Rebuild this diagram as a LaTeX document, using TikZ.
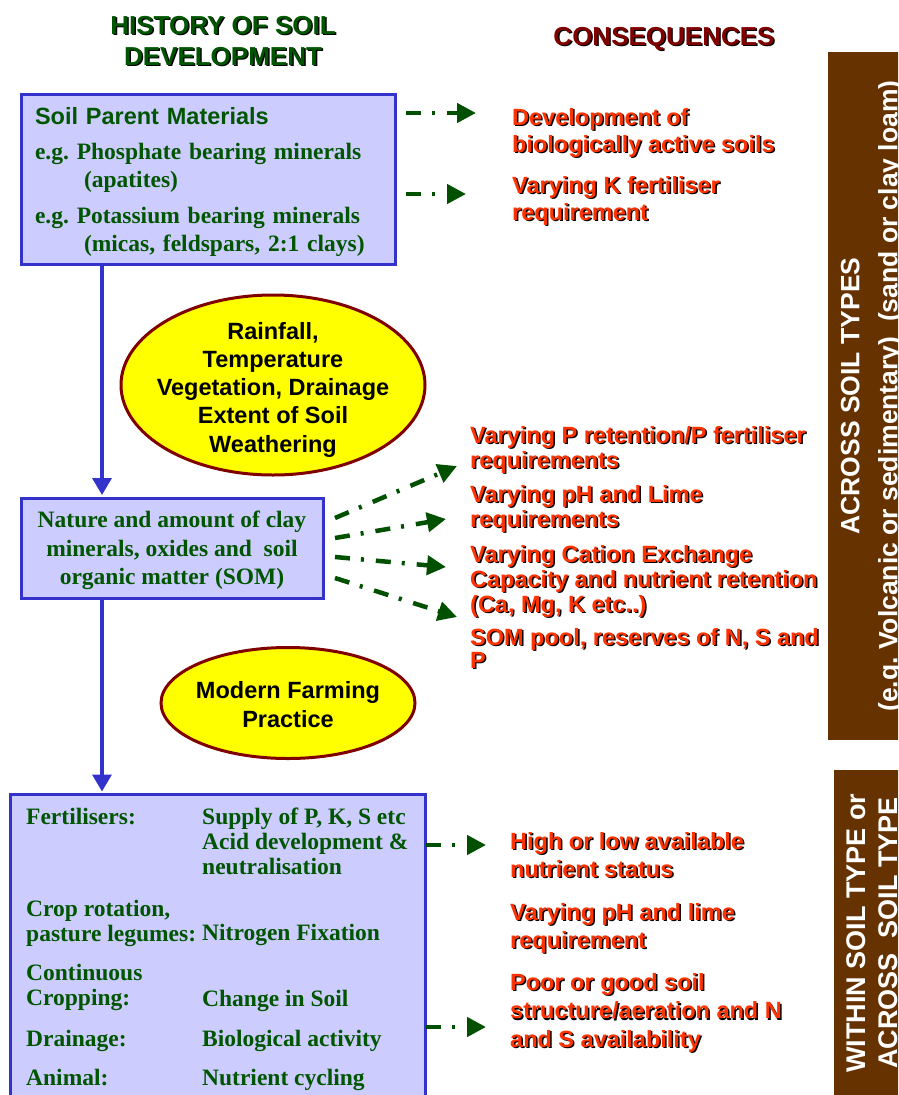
\documentclass[tikz,border=0pt]{standalone}
\usepackage{fontspec}
\setmainfont{Liberation Serif}
\setsansfont{Liberation Sans}
\usepackage{tikz}
\usetikzlibrary{arrows.meta,shapes.geometric}

\definecolor{boxfill}{HTML}{CCCCFF}
\definecolor{boxline}{HTML}{3333CC}
\definecolor{leafgreen}{RGB}{0,85,0}
\definecolor{linkgreen}{RGB}{0,80,0}
\definecolor{consred}{HTML}{FF3300}
\definecolor{maroon}{HTML}{800000}
\definecolor{bubblefill}{HTML}{FFFF00}
\definecolor{soilbrown}{HTML}{663300}

\newcommand{\shd}[1]{\rlap{\kern1.5pt\raisebox{-1.5pt}{\color{black}#1}}#1}
\frenchspacing

\begin{document}
\begin{tikzpicture}[x=1pt,y=-1pt,
    box/.style={draw=boxline,fill=boxfill,line width=3pt,outer sep=0pt,text=leafgreen,
      font=\bfseries\fontsize{23.5}{28}\selectfont},
    bubble/.style={ellipse,draw=maroon,fill=bubblefill,line width=3pt},
    bubbletext/.style={align=center,inner sep=0pt,font=\sffamily\bfseries\fontsize{23.5}{28.25}\selectfont},
    cons/.style={anchor=north west,inner sep=0pt,align=left,text=consred,
      font=\sffamily\bfseries\fontsize{23.5}{27}\selectfont},
    practice/.style={anchor=base west,inner sep=0pt,align=left,text=leafgreen,
      font=\bfseries\fontsize{23.5}{25}\selectfont},
    flow/.style={boxline,line width=3.5pt,shorten >=3pt,-{Triangle[length=17pt,width=19pt]}},
    link/.style={linkgreen,line width=4.5pt,dash pattern=on 15pt off 11pt on 3pt off 12pt,
      -{Triangle[length=19pt,width=19pt]}},
    bartext/.style={rotate=90,align=center,inner sep=0pt,text=white,
      font=\sffamily\bfseries\fontsize{26.5}{38}\selectfont}]
    \useasboundingbox (0,0) rectangle (898,1095);
    \clip (0,0) rectangle (898,1095);

    % headings
    \node[anchor=north,align=center,inner sep=0pt,text=leafgreen,
      font=\sffamily\bfseries\fontsize{26}{31}\selectfont] (history) at (223,16)
      {\shd{HISTORY OF SOIL}\\\shd{DEVELOPMENT}};
    \node[anchor=base,inner sep=0pt,text=maroon,
      font=\sffamily\bfseries\fontsize{26}{31}\selectfont] (conseq) at (664,45)
      {\shd{CONSEQUENCES}};

    % left column
    \node[box,anchor=north west,text width=347pt,inner xsep=13.5pt,minimum height=170pt,align=left]
      (parent) at (21.5,94.5)
      {\rule{0pt}{23pt}{\sffamily Soil Parent Materials}\\[7pt]
       e.g. Phosphate bearing minerals\\
       \hspace*{49pt}(apatites)\\[8pt]
       e.g. Potassium bearing minerals\\
       \hspace*{49pt}(micas, feldspars, 2:1 clays)};

    \node[box,minimum width=302pt,minimum height=100pt,align=center,
      font=\bfseries\fontsize{23.5}{28.5}\selectfont] (clay) at (172,548)
      {\rule{0pt}{22pt}Nature and amount of clay\\minerals, oxides and~~soil\\organic matter (SOM)};

    \node[box,anchor=north west,minimum width=415pt,minimum height=330pt] (farm) at (10.5,794.5) {};

    \node[practice] (fert) at (26,824) {Fertilisers:};
    \node[practice,anchor=north west] (fertfx) at (202,808) {Supply of P, K, S etc\\Acid development \&\\neutralisation};
    \node[practice,anchor=north west] (rot) at (26,900) {Crop rotation,\\pasture legumes:};
    \node[practice] (rotfx) at (202,940) {Nitrogen Fixation};
    \node[practice,anchor=north west] (cont) at (26,964) {Continuous\\Cropping:};
    \node[practice] (contfx) at (202,1006) {Change in Soil};
    \node[practice] (drain) at (26,1046) {Drainage:};
    \node[practice] (drainfx) at (202,1046) {Biological activity};
    \node[practice] (anim) at (26,1085) {Animal:};
    \node[practice] (animfx) at (202,1085) {Nutrient cycling};

    % drivers
    \node[bubble,minimum width=304pt,minimum height=180pt] (climate) at (273,385) {};
    \node[bubbletext] (climatetext) at (273,389.5)
      {Rainfall,\\Temperature\\Vegetation, Drainage\\Extent of Soil\\Weathering};
    \node[bubble,minimum width=254pt,minimum height=111pt] (farming) at (288,703) {};
    \node[bubbletext,font=\sffamily\bfseries\fontsize{23.5}{29}\selectfont] (farmingtext) at (288,705)
      {Modern Farming\\Practice};

    \coordinate (spine) at (102,0);
    \draw[flow] (parent.south -| spine) -- (clay.north -| spine);
    \draw[flow] (clay.south -| spine) -- (farm.north -| spine);

    % consequences
    \node[cons] (devsoil) at (512,108) {\shd{Development of}\\\shd{biologically active soils}};
    \node[cons] (kreq) at (512,176) {\shd{Varying K fertiliser}\\\shd{requirement}};

    \node[cons,font=\sffamily\bfseries\fontsize{23.5}{25}\selectfont] (pret) at (470,426)
      {\shd{Varying P retention/P fertiliser}\\\shd{requirements}};
    \node[cons,font=\sffamily\bfseries\fontsize{23.5}{25}\selectfont] (phlime) at (470,485)
      {\shd{Varying pH and Lime}\\\shd{requirements}};
    \node[cons,font=\sffamily\bfseries\fontsize{23.5}{25}\selectfont] (cec) at (470,545)
      {\shd{Varying Cation Exchange}\\\shd{Capacity and nutrient retention}\\\shd{(Ca, Mg, K etc..)}};
    \node[cons,font=\sffamily\bfseries\fontsize{23.5}{23}\selectfont] (sompool) at (470,628)
      {\shd{SOM pool, reserves of N, S and}\\\shd{P}};

    \node[cons,font=\sffamily\bfseries\fontsize{23.5}{28}\selectfont] (nutstat) at (510,832)
      {\shd{High or low available}\\\shd{nutrient status}};
    \node[cons,font=\sffamily\bfseries\fontsize{23.5}{28}\selectfont] (phreq) at (510,903)
      {\shd{Varying pH and lime}\\\shd{requirement}};
    \node[cons,font=\sffamily\bfseries\fontsize{23.5}{28.5}\selectfont] (struct) at (510,973)
      {\shd{Poor or good soil}\\\shd{structure/aeration and N}\\\shd{and S availability}};

    \coordinate (t1) at (476,113);
    \coordinate (t2) at (466,194);
    \draw[link] ([xshift=10.5pt]parent.east |- t1) -- (t1);
    \draw[link] ([xshift=10.5pt]parent.east |- t2) -- (t2);

    \coordinate (m1) at (457,466);
    \coordinate (m2) at (446,519);
    \coordinate (m3) at (446,567);
    \coordinate (m4) at (457,617);
    \draw[link] ([shift={(12,-30)}]clay.east) -- (m1);
    \draw[link] ([shift={(12,-10)}]clay.east) -- (m2);
    \draw[link] ([shift={(12,9)}]clay.east) -- (m3);
    \draw[link] ([shift={(12,30)}]clay.east) -- (m4);

    \coordinate (b1) at (486,845);
    \coordinate (b2) at (486,1027);
    \draw[link] (farm.east |- b1) -- (b1);
    \draw[link] (farm.east |- b2) -- (b2);

    % side bars
    \fill[soilbrown] (828,52) rectangle (900,740);
    \fill[soilbrown] (834,770) rectangle (900,1100);
    \node[bartext] (across) at (872,396)
      {ACROSS SOIL TYPES\\(e.g. Volcanic or sedimentary)~~(sand or clay loam)};
    \node[bartext,font=\sffamily\bfseries\fontsize{27}{32}\selectfont] (within) at (872,933)
      {WITHIN SOIL TYPE or\\ACROSS~~SOIL TYPE};
\end{tikzpicture}
\end{document}
